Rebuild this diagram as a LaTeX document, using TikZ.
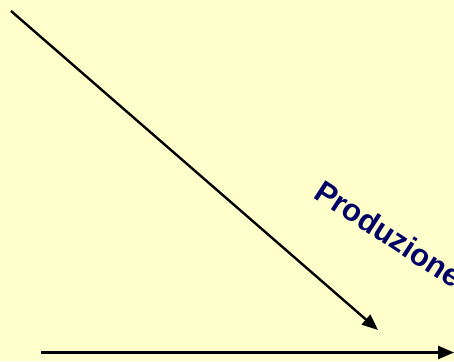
\documentclass[tikz,border=0pt]{standalone}
\usepackage{fontspec}
\setmainfont{Liberation Sans}
\usetikzlibrary{arrows.meta}
\definecolor{bgyellow}{HTML}{FFFFCC}
\definecolor{navytext}{HTML}{000066}
\begin{document}
\begin{tikzpicture}[x=1pt,y=-1pt,
  arr/.style={line width=2.4pt,-{Triangle[length=16pt,width=13pt]}},
  lbl/.style={font=\bfseries\fontsize{31}{33}\selectfont,text=navytext,inner sep=0pt,anchor=base west}]
\useasboundingbox (0,0) rectangle (454,361);
\clip (0,0) rectangle (454,361);
\fill[bgyellow] (0,0) rectangle (454,361);
\coordinate (d1) at (11,11);
\coordinate (d2) at (378,330);
\coordinate (h1) at (41,352.5);
\coordinate (h2) at (454,352.5);
\draw[arr] (d1) -- (d2);
\draw[arr] (h1) -- (h2);
\node[lbl,rotate=-33] (prod) at (312,197) {Produzione};
\end{tikzpicture}
\end{document}
